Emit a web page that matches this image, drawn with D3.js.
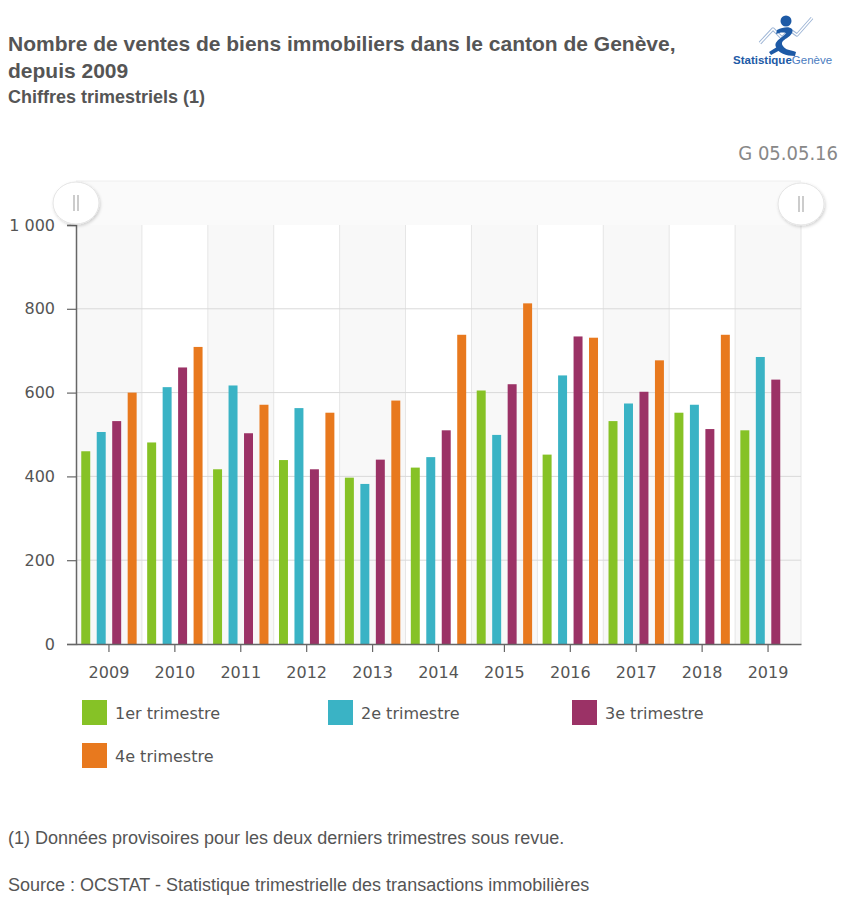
<!DOCTYPE html>
<html><head><meta charset="utf-8">
<script src="https://cdn.jsdelivr.net/npm/d3@7"></script>
<style>body{margin:0;background:#fff}svg{display:block}</style>
</head><body>
<svg id="chart" width="849" height="905"></svg>
<script>
const years = ['2009','2010','2011','2012','2013','2014','2015','2016','2017','2018','2019'];
const quarters = ['1er trimestre','2e trimestre','3e trimestre','4e trimestre'];
const q1 = [460,481,417,439,397,421,605,452,532,552,510];
const q2 = [506,613,617,563,382,446,499,641,574,571,685];
const q3 = [532,660,503,417,440,510,620,734,602,513,631];
const q4 = [600,709,571,552,581,738,813,731,677,738,null];
const colors = ['#86c226','#3ab3c5','#9b3266','#e8791e'];
const yTicks = [0,200,400,600,800,1000];

const series = [q1,q2,q3,q4];
const svg = d3.select('#chart');
const L = 76, R = 801, T = 225, B = 644;
const x0 = d3.scaleBand().domain(years).range([L,R]).padding(0);
const x1 = d3.scaleBand().domain(d3.range(4)).range([0,x0.bandwidth()]).paddingInner(0.42).paddingOuter(0.34);
const y = d3.scaleLinear().domain([0,1000]).range([B,T]);
const fmt = v => d3.format(',')(v).replace(/,/g,' ');

// title
const tf = "'Liberation Sans', Arial, sans-serif";
svg.append('text').attr('x',8).attr('y',51).attr('font-family',tf).attr('font-weight','bold').attr('font-size',21).attr('fill','#555')
  .text('Nombre de ventes de biens immobiliers dans le canton de Genève,');
svg.append('text').attr('x',8).attr('y',78).attr('font-family',tf).attr('font-weight','bold').attr('font-size',21).attr('fill','#555')
  .text('depuis 2009');
svg.append('text').attr('x',8).attr('y',103).attr('font-family',tf).attr('font-weight','bold').attr('font-size',18).attr('fill','#555')
  .text('Chiffres trimestriels (1)');

// logo
const logo = svg.append('g');
logo.append('polyline').attr('points','760,43 773,29 782,38 790,30 797,35 812,18')
  .attr('fill','none').attr('stroke','#9fb6d6').attr('stroke-width',3.4).attr('stroke-linejoin','round');
logo.append('polyline').attr('points','760,43 773,29 782,38 790,30 797,35 812,18')
  .attr('fill','none').attr('stroke','#fff').attr('stroke-width',1.5).attr('stroke-linejoin','round');
logo.append('circle').attr('cx',786).attr('cy',21).attr('r',5.5).attr('fill','#1d5aa6');
logo.append('path').attr('d','M777,30 C786,25 795,27 792,33 C789,39 779,40 783,46 C785,50 791,50 796,52 L795,56 C786,56 778,53 776,47 C773,41 784,37 786,33 C782,32 779,33 776,34 Z')
  .attr('fill','#1d5aa6');
logo.append('path').attr('d','M780,45 L769,52 L771,55 L782,49 Z').attr('fill','#1d5aa6');
const lt = logo.append('text').attr('x',733).attr('y',64).attr('font-family',"'Liberation Sans', Arial, sans-serif").attr('font-size',11.5).attr('fill','#1d5aa6');
lt.append('tspan').attr('font-weight','bold').text('Statistique');
lt.append('tspan').attr('fill','#4a7cc0').text('Genève');

// date code
svg.append('text').attr('x',838).attr('y',160).attr('text-anchor','end').attr('font-family',"'DejaVu Sans Condensed','DejaVu Sans',sans-serif").attr('font-size',20).attr('fill','#888').text('G 05.05.16');

// navigator strip
svg.append('rect').attr('x',L).attr('y',181).attr('width',R-L).attr('height',T-181).attr('fill','#fafafa');
svg.append('line').attr('x1',L).attr('x2',R).attr('y1',181).attr('y2',181).attr('stroke','#eeeeee');

// alternating bands
svg.append('g').selectAll('rect').data(years.filter((d,i)=>i%2===0)).join('rect')
  .attr('x',d=>x0(d)).attr('y',T).attr('width',x0.bandwidth()).attr('height',B-T).attr('fill','#f8f8f8');
// vertical grid
svg.append('g').selectAll('line').data(years.slice(1).concat(['end'])).join('line')
  .attr('x1',(d,i)=>L+(i+1)*x0.bandwidth()).attr('x2',(d,i)=>L+(i+1)*x0.bandwidth())
  .attr('y1',T).attr('y2',B).attr('stroke','#e6e6e6');
// horizontal grid
svg.append('g').selectAll('line').data(yTicks.filter(v=>v>0 && v<1000)).join('line')
  .attr('x1',L).attr('x2',R).attr('y1',d=>y(d)).attr('y2',d=>y(d)).attr('stroke','#d9d9d9');

// bars
const bars = [];
years.forEach((yr,i)=>series.forEach((s,k)=>{ if(s[i]!=null) bars.push({yr,k,v:s[i]}); }));
svg.append('g').selectAll('rect').data(bars).join('rect')
  .attr('x',d=>x0(d.yr)+x1(d.k)).attr('width',x1.bandwidth())
  .attr('y',d=>y(d.v)).attr('height',d=>B-y(d.v)).attr('fill',d=>colors[d.k]);

// axes
const af = "'DejaVu Sans', Verdana, sans-serif";
const ya = svg.append('g').attr('transform',`translate(${L},0)`)
  .call(d3.axisLeft(y).tickValues(yTicks).tickFormat(fmt).tickSize(9).tickPadding(12));
ya.select('.domain').attr('stroke','#666').attr('stroke-width',1.5);
ya.selectAll('.tick line').attr('stroke','#666').attr('stroke-width',1.2);
ya.selectAll('.tick text').attr('font-family',af).attr('font-size',16).attr('fill','#555');

const xa = svg.append('g').attr('transform',`translate(0,${B})`)
  .call(d3.axisBottom(x0).tickSize(8).tickSizeOuter(0).tickPadding(15));
xa.select('.domain').attr('stroke','#666').attr('stroke-width',1.5);
xa.selectAll('.tick line').attr('stroke','#666').attr('stroke-width',1.2);
xa.selectAll('.tick text').attr('font-family',af).attr('font-size',16).attr('fill','#555');

// navigator handles
const defs = svg.append('defs');
const f = defs.append('filter').attr('id','sh').attr('x','-50%').attr('y','-50%').attr('width','200%').attr('height','200%');
f.append('feDropShadow').attr('dx',1).attr('dy',1.5).attr('stdDeviation',1.5).attr('flood-color','#000').attr('flood-opacity',0.18);
[[L,203],[R,204]].forEach(([cx,cy])=>{
  svg.append('ellipse').attr('cx',cx).attr('cy',cy).attr('rx',23).attr('ry',21).attr('fill','#fff').attr('stroke','#e4e4e4').attr('filter','url(#sh)');
  svg.append('line').attr('x1',cx-2).attr('x2',cx-2).attr('y1',cy-8).attr('y2',cy+8).attr('stroke','#aaa').attr('stroke-width',1.2);
  svg.append('line').attr('x1',cx+2).attr('x2',cx+2).attr('y1',cy-8).attr('y2',cy+8).attr('stroke','#aaa').attr('stroke-width',1.2);
});

// legend
const legPos = [[82,700],[328,700],[572,700],[82,743]];
const lg = svg.append('g').selectAll('g').data(quarters).join('g')
  .attr('transform',(d,i)=>`translate(${legPos[i][0]},${legPos[i][1]})`);
lg.append('rect').attr('width',25).attr('height',25).attr('fill',(d,i)=>colors[i]);
lg.append('text').attr('x',33).attr('y',19).attr('font-family',af).attr('font-size',16).attr('fill','#555').text(d=>d);

// footnotes
svg.append('text').attr('x',8).attr('y',844).attr('font-family',tf).attr('font-size',18).attr('fill','#555')
  .text('(1) Données provisoires pour les deux derniers trimestres sous revue.');
svg.append('text').attr('x',8).attr('y',891).attr('font-family',tf).attr('font-size',18).attr('fill','#555')
  .text('Source : OCSTAT - Statistique trimestrielle des transactions immobilières');
</script>
</body></html>
